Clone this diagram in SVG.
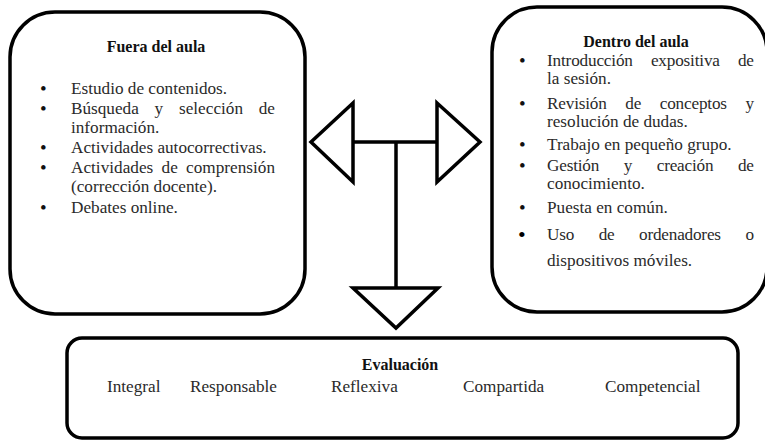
<svg xmlns="http://www.w3.org/2000/svg" width="765" height="440" viewBox="0 0 765 440">
<style>
.box{fill:#fff;stroke:#000;stroke-width:3.5}
.ln{fill:none;stroke:#000;stroke-width:3.5;stroke-linejoin:miter}
text{font-family:"Liberation Serif","Times New Roman",serif;font-size:17.2px;fill:#2a2a2a}
.t{font-weight:bold;font-size:16px;fill:#111}
.b{font-size:19px;fill:#111}
.bb{font-size:22px;fill:#000}
</style>
<rect width="765" height="440" fill="#fff"/>
<g id="fuera">
<rect class="box" x="10" y="12" width="295" height="302" rx="45"/>
<text class="t" x="156" y="52" text-anchor="middle">Fuera del aula</text>
<text class="b" x="40" y="95">•</text><text x="71" y="94">Estudio de contenidos.</text>
<text class="b" x="40" y="115">•</text><text x="71" y="114" word-spacing="11.5" textLength="204" lengthAdjust="spacing">Búsqueda y selección de</text>
<text x="71" y="133">información.</text>
<text class="b" x="40" y="154">•</text><text x="71" y="153">Actividades autocorrectivas.</text>
<text class="b" x="40" y="174">•</text><text x="71" y="173" word-spacing="4" textLength="204" lengthAdjust="spacing">Actividades de comprensión</text>
<text x="71" y="192">(corrección docente).</text>
<text class="b" x="40" y="214">•</text><text x="71" y="213">Debates online.</text>
</g>
<g id="dentro">
<rect class="box" x="492" y="7" width="275" height="305" rx="45"/>
<text class="t" x="636" y="47" text-anchor="middle">Dentro del aula</text>
<text class="b" x="519" y="67">•</text><text x="547" y="66" word-spacing="14" textLength="207" lengthAdjust="spacing">Introducción expositiva de</text>
<text x="547" y="84">la sesión.</text>
<text class="b" x="519" y="110">•</text><text x="547" y="109" word-spacing="14.5" textLength="207" lengthAdjust="spacing">Revisión de conceptos y</text>
<text x="547" y="127">resolución de dudas.</text>
<text class="b" x="519" y="151">•</text><text x="547" y="150">Trabajo en pequeño grupo.</text>
<text class="b" x="519" y="172">•</text><text x="547" y="171" word-spacing="20.5" textLength="207" lengthAdjust="spacing">Gestión y creación de</text>
<text x="547" y="189">conocimiento.</text>
<text class="b" x="519" y="214">•</text><text x="547" y="213">Puesta en común.</text>
<text class="bb" x="518" y="242">•</text><text x="547" y="240" word-spacing="20.5" textLength="207" lengthAdjust="spacing">Uso de ordenadores o</text>
<text x="547" y="266">dispositivos móviles.</text>
</g>
<g id="evaluacion">
<rect class="box" x="67" y="338" width="671" height="100" rx="15"/>
<text class="t" x="400" y="370" text-anchor="middle">Evaluación</text>
<text x="107" y="392">Integral</text>
<text x="190" y="392">Responsable</text>
<text x="331" y="392">Reflexiva</text>
<text x="463" y="392">Compartida</text>
<text x="605" y="392">Competencial</text>
</g>
<g id="connectors">
<path class="ln" d="M353,142 H437 M396,142 V288"/>
<path class="ln" d="M353,103 L311,142 L353,182 Z"/>
<path class="ln" d="M437,103 L480,142 L437,182 Z"/>
<path class="ln" d="M353,288 H438 L396,328 Z"/>
</g>
</svg>
